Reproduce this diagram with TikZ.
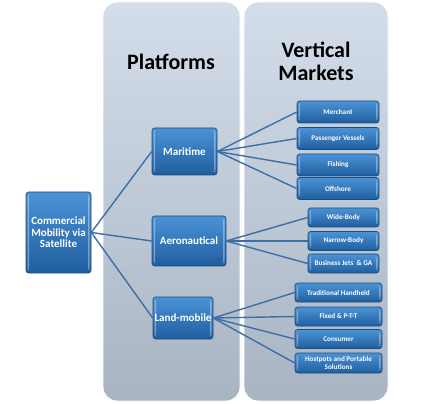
\documentclass[tikz,border=0pt]{standalone}
\usepackage{fontspec}
\setmainfont{Carlito}
\definecolor{panelTop}{HTML}{D4DEEA}
\definecolor{panelBot}{HTML}{A9B4C3}
\definecolor{boxTop}{HTML}{4B93D6}
\definecolor{boxBot}{HTML}{1F5E9E}
\definecolor{boxEdge}{HTML}{1A4C80}
\definecolor{linkCol}{HTML}{3D6FA6}
\begin{document}
\begin{tikzpicture}[x=1pt,y=-1pt,
  panel/.style={rounded corners=14pt, top color=panelTop, bottom color=panelBot, draw=white, line width=0.8pt},
  title/.style={font=\bfseries\fontsize{22}{23}\selectfont, align=center, text=black},
  bluebox/.style={draw=boxEdge, line width=0.6pt, rounded corners=2.5pt, top color=boxTop, bottom color=boxBot,
    text=white, font=\bfseries, align=center, inner sep=1pt,
    path picture={
      \fill[white,opacity=0.35] ([xshift=1.5pt,yshift=-3pt]path picture bounding box.north west) rectangle ([xshift=3pt,yshift=3pt]path picture bounding box.south west);
      \fill[white,opacity=0.35] ([xshift=-3pt,yshift=-3pt]path picture bounding box.north east) rectangle ([xshift=-1.5pt,yshift=3pt]path picture bounding box.south east);
    }},
  bigbox/.style={bluebox, font=\bfseries\fontsize{11}{11.5}\selectfont},
  leaf/.style={bluebox, font=\bfseries\fontsize{7.2}{8.3}\selectfont, minimum height=20pt},
  link/.style={draw=linkCol, line width=1.4pt}
]
\useasboundingbox (0,0) rectangle (432,404);
\fill[white] (0,0) rectangle (432,404);

% panels
\path[panel] (103,2) rectangle (240,401);
\path[panel] (244,2) rectangle (388,401);
\node[title] (tplat) at (171,62) {Platforms};
\node[title] (tvert) at (316,61) {Vertical\\Markets};

% root and platforms
\node[bigbox, minimum width=65pt, minimum height=81pt] (root) at (58.5,232.5) {Commercial\\Mobility via\\Satellite};
\node[bigbox, minimum width=65pt, minimum height=47pt] (mar) at (184.5,151.5) {Maritime};
\node[bigbox, minimum width=74pt, minimum height=50pt] (aer) at (189,241) {Aeronautical};
\node[bigbox, minimum width=60pt, minimum height=42pt] (land) at (183,318) {Land-mobile};

% maritime leaves
\node[leaf, minimum width=82pt, minimum height=22pt] (m1) at (338,112) {Merchant};
\node[leaf, minimum width=82pt, minimum height=22pt] (m2) at (338,138.5) {Passenger Vessels};
\node[leaf, minimum width=82pt, minimum height=22pt] (m3) at (338,165) {Fishing};
\node[leaf, minimum width=82pt, minimum height=22pt] (m4) at (338,188.5) {Offshore};

% aeronautical leaves
\node[leaf, minimum width=71pt, minimum height=19pt] (a1) at (343.5,217.5) {Wide-Body};
\node[leaf, minimum width=71pt, minimum height=19pt] (a2) at (343.5,241) {Narrow-Body};
\node[leaf, minimum width=71pt, minimum height=19pt] (a3) at (343.5,263.5) {Business Jets \ \& GA};

% land-mobile leaves
\node[leaf, minimum width=87pt, minimum height=19pt] (l1) at (338.5,292.5) {Traditional Handheld};
\node[leaf, minimum width=87pt, minimum height=19pt] (l2) at (338.5,316.5) {Fixed \& P-T-T};
\node[leaf, minimum width=87pt, minimum height=19pt] (l3) at (338.5,339) {Consumer};
\node[leaf, minimum width=87pt, minimum height=20pt] (l4) at (338.5,363) {Hostpots and Portable\\Solutions};

% connectors
\draw[link] (root.east) -- (mar.west);
\draw[link] (root.east) -- (aer.west);
\draw[link] (root.east) -- (land.west);
\foreach \c in {m1,m2,m3,m4} \draw[link] (mar.east) -- (\c.west);
\foreach \c in {a1,a2,a3} \draw[link] (aer.east) -- (\c.west);
\foreach \c in {l1,l2,l3,l4} \draw[link] (land.east) -- (\c.west);
\end{tikzpicture}
\end{document}
